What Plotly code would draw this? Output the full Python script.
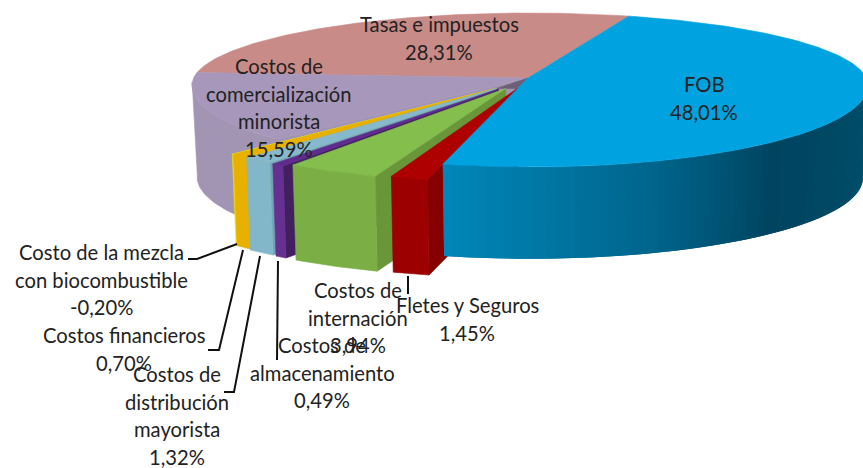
import math
import plotly.graph_objects as go

# ---- data (clockwise from the FOB slice) ----
categories = ["FOB", "Fletes y Seguros", "Costos de internación", "Costos de almacenamiento",
              "Costos de distribución mayorista", "Costos financieros",
              "Costo de la mezcla con biocombustible", "Costos de comercialización minorista",
              "Tasas e impuestos"]
values = [48.01, 1.45, 3.94, 0.49, 1.32, 0.70, -0.20, 15.59, 28.31]

# ---- perspective / layout of the 3-D pie ----
W, H = 863, 468
CX, CY, RX, RY_FRONT, RY_BACK = 530, 85, 338, 82, 72
APEX = (528, 78)
START = 17
BOTTOM_SCALE = 0.985
STRETCH = [1.029, 1.245, 1.135, 1.247, 1.115, 1.3, 0.417, 0.913, 0.952]   # foreshortening of the view
EXPLODE = [(0, 0), (-15, 15), (-31, 15), (-41, 16), (-44, 15), (-44, 15), (-44, 15), (0, 0), (0, 0)]
HEIGHT = [93, 97, 96, 93, 93, 92, 92, 92, 92]
TOP = ["#00A3E0", "#AE0000", "#84BF4E", "#5F2C8E", "#86B9CB", "#E8B000", "#EFE000", "#A797BA", "#C98B88"]
FRONT = [None, "#9C0000", "#7BAF45", "#65308F", "#82B7C9", "#E8B000", "#EFE000", "#A294B3", "#C98B88"]
SIDE = [None, "#860000", "#6A963A", "#42205F", "#6FA3B5", "#C89800", "#C8BC00", "#A294B3", "#C98B88"]
FOB_SHADE = [(90, (0, 80, 108)), (134, (0, 68, 96)), (160, (0, 102, 142)), (196, (0, 136, 186))]

LABELS = [
    (439, ["Tasas e impuestos", "28,31%"], 24),
    (704, ["FOB", "48,01%"], 84),
    (279, ["Costos de", "comercialización", "minorista", "15,59%"], 66),
    (101, ["Costo de la mezcla", "con biocombustible", "-0,20%"], 252),
    (124, ["Costos financieros", "0,70%"], 335),
    (177, ["Costos de", "distribución", "mayorista", "1,32%"], 374),
    (322, ["Costos de", "almacenamiento", "0,49%"], 345),
    (358, ["Costos de", "internación", "3,94%"], 290),
    (467, ["Fletes y Seguros", "1,45%"], 305),
]
LEADERS = [
    ([188, 197, 237], [259, 259, 244]),
    ([208, 219, 243], [350, 350, 250]),
    ([224, 234, 260], [392, 392, 256]),
    ([277, 278], [360, 261]),
    ([408, 408], [294, 276]),
]

# ---- geometry derived from the values ----
weights = [abs(v) * s for v, s in zip(values, STRETCH)]
total = sum(weights)
bounds = [START]
for w in weights:
    bounds.append(bounds[-1] + 360 * w / total)


def rim(t, off=(0, 0)):
    r = math.radians(t)
    c = math.cos(r)
    ry = RY_BACK if c > 0 else RY_FRONT
    return CX + off[0] + RX * math.sin(r), CY + off[1] - ry * c


def rim_bottom(t, off, h):
    x, y = rim(t)
    return (CX + off[0] + (x - CX) * BOTTOM_SCALE,
            CY + off[1] + (y - CY) * BOTTOM_SCALE + h)


def apex(off):
    return APEX[0] + 0.72 * off[0], APEX[1] + 0.7 * off[1]


def steps(a, b, d=1.0):
    n = max(1, int(abs(b - a) / d))
    return [a + (b - a) * i / n for i in range(n + 1)]


fig = go.Figure()


def poly(pts, color, lw=0.6):
    xs = [p[0] for p in pts] + [pts[0][0]]
    ys = [p[1] for p in pts] + [pts[0][1]]
    fig.add_trace(go.Scatter(x=xs, y=ys, mode="lines", fill="toself", fillcolor=color,
                             line=dict(color=color, width=lw), hoverinfo="skip", showlegend=False))


def top_face(i):
    off = EXPLODE[i]
    poly([apex(off)] + [rim(t, off) for t in steps(bounds[i], bounds[i + 1])], TOP[i])


def front_wall(i, a, b, color, lw=0.6):
    off, h = EXPLODE[i], HEIGHT[i]
    ts = steps(a, b)
    poly([rim(t, off) for t in ts] + [rim_bottom(t, off, h) for t in reversed(ts)], color, lw)


def side_wall(i, t, color):
    off, h = EXPLODE[i], HEIGHT[i]
    ax, ay = apex(off)
    bx, by = rim_bottom(t, off, h)
    poly([(ax, ay), rim(t, off), (bx, by), (ax, ay + h)], color)


def shade(t):
    for (t0, c0), (t1, c1) in zip(FOB_SHADE, FOB_SHADE[1:]):
        if t0 <= t <= t1:
            f = (t - t0) / (t1 - t0)
            return "rgb(%d,%d,%d)" % tuple(round(p + (q - p) * f) for p, q in zip(c0, c1))
    return "rgb(%d,%d,%d)" % FOB_SHADE[-1][1]


# back slices
top_face(8)
side_wall(7, bounds[7], "#A294B3")
front_wall(7, bounds[7], 272, FRONT[7])
top_face(7)
# dark inner wall seen around the centre
poly([APEX, apex(EXPLODE[6]), apex(EXPLODE[1])], "#6C6078")

# exploded slices, left to right
for i in [6, 5, 4, 3, 2, 1]:
    side_wall(i, bounds[i], SIDE[i])
    front_wall(i, bounds[i], bounds[i + 1], FRONT[i])
    top_face(i)

# FOB wall, shaded along the rim (each band overlaps the next), then its top
t = 90.0
end = bounds[1]
while t < end:
    nxt = min(t + 1.5, end)
    front_wall(0, t, min(nxt + 1.5, end), shade((t + nxt) / 2), 0)
    t = nxt
top_face(0)

# leader lines
for lx, ly in LEADERS:
    fig.add_trace(go.Scatter(x=lx, y=ly, mode="lines", line=dict(color="#111111", width=2),
                             hoverinfo="skip", showlegend=False))

# labels
LINE = 27.5
for x, lines, y0 in LABELS:
    for k, s in enumerate(lines):
        fig.add_annotation(x=x, y=y0 + k * LINE, text=s, showarrow=False, xanchor="center", yanchor="middle",
                           font=dict(family="Lato", size=20.2, color="#222222"))

fig.update_layout(width=W, height=H, margin=dict(l=0, r=0, t=0, b=0), paper_bgcolor="white",
                  plot_bgcolor="white", showlegend=False,
                  xaxis=dict(range=[0, W], visible=False, fixedrange=True),
                  yaxis=dict(range=[H, 0], visible=False, fixedrange=True))
fig.write_html("out.html", config={"displayModeBar": False},
               post_script="document.body.style.margin='0';document.documentElement.style.overflow='hidden';")
